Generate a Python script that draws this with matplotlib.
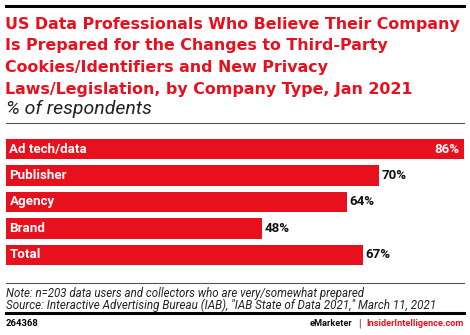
import matplotlib.pyplot as plt
from matplotlib.lines import Line2D

# data
categories = ['Ad tech/data', 'Publisher', 'Agency', 'Brand', 'Total']
values = [86, 70, 64, 48, 67]

RED = '#e9101d'
W, H = 470, 335
plt.rcParams['font.family'] = ['Roboto', 'DejaVu Sans']

fig = plt.figure(figsize=(W / 100, H / 100), dpi=100)


def fx(px):
    return px / W


def fy(py):
    return 1 - py / H


def hline(y, lw, color):
    fig.add_artist(Line2D([fx(6), fx(464)], [fy(y), fy(y)], lw=lw, color=color,
                          transform=fig.transFigure))


# rules
hline(6, 2.2, 'black')
hline(123, 0.8, '#555555')
hline(283, 0.8, '#555555')
hline(313, 2.2, 'black')

title = ('US Data Professionals Who Believe Their Company\n'
         'Is Prepared for the Changes to Third-Party\n'
         'Cookies/Identifiers and New Privacy\n'
         'Laws/Legislation, by Company Type, Jan 2021')
fig.text(fx(5), fy(16.5), title, color=RED, fontsize=11.45, fontweight='bold',
         family='DejaVu Sans', va='top', ha='left', linespacing=1.56)
fig.text(fx(6), fy(108.5), '% of respondents', fontsize=14, style='italic',
         va='center', ha='left', color='#222222')

# bars
ax = fig.add_axes([fx(6), fy(269), fx(458), (269 - 135) / H])
ypos = list(range(len(categories)))
ax.barh(ypos, values, height=0.78, color=RED)
ax.set_xlim(0, max(values))
ax.set_ylim(len(categories) - 0.5 + 0.03, -0.5 - 0.03)
ax.axis('off')

for y, (cat, v) in enumerate(zip(categories, values)):
    ax.annotate(cat, (0, y), xytext=(2.5, 0), textcoords='offset points',
                color='white', fontsize=9.6, fontweight='bold', va='center', ha='left')
    if v == max(values):
        ax.annotate(f'{v}%', (v, y), xytext=(-3, 0), textcoords='offset points',
                    color='white', fontsize=9.6, fontweight='bold', va='center', ha='right')
    else:
        ax.annotate(f'{v}%', (v, y), xytext=(2, 0), textcoords='offset points',
                    color='#111111', fontsize=9.6, fontweight='bold', va='center', ha='left')

# notes
fig.text(fx(6), fy(293), 'Note: n=203 data users and collectors who are very/somewhat prepared',
         fontsize=8.3, style='italic', va='center', ha='left', color='#222222')
fig.text(fx(6), fy(305), 'Source: Interactive Advertising Bureau (IAB), "IAB State of Data 2021," March 11, 2021',
         fontsize=8.4, style='italic', va='center', ha='left', color='#222222')

# footer
fig.text(fx(6), fy(324), '264368', fontsize=6.8, fontweight='bold', va='center', ha='left')
t1 = fig.text(fx(464), fy(324), 'InsiderIntelligence.com', fontsize=6.6, fontweight='bold',
              va='center', ha='right', color=RED)
sep = plt.annotate('|', xy=(0, 0.5), xycoords=t1, xytext=(-4.5, 0), textcoords='offset points',
                   fontsize=7, color='#333333', va='center', ha='right', annotation_clip=False)
plt.annotate('eMarketer', xy=(0, 0.5), xycoords=sep, xytext=(-4, 0), textcoords='offset points',
             fontsize=6.6, fontweight='bold', color='#111111', va='center', ha='right',
             annotation_clip=False)

fig.savefig('out.png', dpi=100)
